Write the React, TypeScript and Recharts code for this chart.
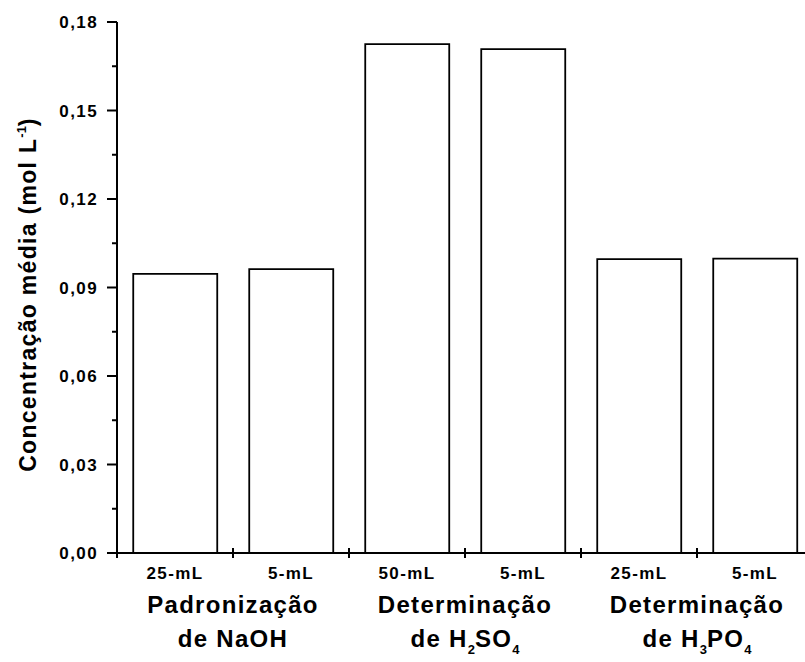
import { Bar, BarChart, XAxis, YAxis } from 'recharts'

// mean concentration per titration, in mol/L
const volumes = ['25-mL', '5-mL', '50-mL', '5-mL', '25-mL', '5-mL']
const concentrations = [0.0946, 0.0962, 0.1725, 0.1708, 0.0996, 0.0998]

// each procedure spans two bars; second line alternates plain text / subscript
const groupTitles = ['Padronização', 'Determinação', 'Determinação']
const groupSubtitles = [['de NaOH'], ['de H', '2', 'SO', '4'], ['de H', '3', 'PO', '4']]

const majorTicks = [0, 0.03, 0.06, 0.09, 0.12, 0.15, 0.18]
const minorTicks = [0.015, 0.045, 0.075, 0.105, 0.135, 0.165]

const data = volumes.map((volume, i) => ({ volume, value: concentrations[i] }))

const FONT = '"Liberation Sans", Arial, sans-serif'

function ValueTick(props: any) {
  const { x, y, payload } = props
  const isMajor = majorTicks.includes(payload.value)
  return (
    <g>
      <line x1={x - (isMajor ? 10 : 5)} x2={x} y1={y} y2={y} stroke="#000" strokeWidth={2} />
      {isMajor && (
        <text
          x={x - 19}
          y={y}
          dy={6}
          textAnchor="end"
          fontFamily={FONT}
          fontWeight="bold"
          fontSize={17}
          letterSpacing={1.4}
          fill="#000"
        >
          {payload.value.toFixed(2).replace('.', ',')}
        </text>
      )}
    </g>
  )
}

function VolumeTick(props: any) {
  const { x, y, payload, index, width, visibleTicksCount } = props
  const half = width / visibleTicksCount / 2
  const isLast = index === visibleTicksCount - 1
  const group = Math.floor(index / 2)
  return (
    <g>
      <line x1={x - half} x2={x - half} y1={y - 5} y2={y + 5} stroke="#000" strokeWidth={2} />
      {isLast && <line x1={x + half} x2={x + half} y1={y - 5} y2={y + 5} stroke="#000" strokeWidth={2} />}
      <text
        x={x}
        y={y + 26}
        textAnchor="middle"
        fontFamily={FONT}
        fontWeight="bold"
        fontSize={17}
        letterSpacing={1.4}
        fill="#000"
      >
        {payload.value}
      </text>
      {index % 2 === 1 && (
        <g fontFamily={FONT} fontWeight="bold" fontSize={24} letterSpacing={1.3} fill="#000" textAnchor="middle">
          <text x={x - half} y={y + 60}>
            {groupTitles[group]}
          </text>
          <text x={x - half} y={y + 94}>
            {groupSubtitles[group].map((part, i) =>
              i % 2 === 0 ? (
                <tspan key={i} fontSize={24} dy={i === 0 ? 0 : -7}>
                  {part}
                </tspan>
              ) : (
                <tspan key={i} fontSize={13} dy={7} letterSpacing={0}>
                  {part}
                </tspan>
              ),
            )}
          </text>
        </g>
      )}
    </g>
  )
}

function AxisTitle(props: any) {
  const { viewBox } = props
  const cx = 36
  const cy = viewBox.y + viewBox.height / 2 + 7
  return (
    <text
      x={cx}
      y={cy}
      transform={`rotate(-90, ${cx}, ${cy})`}
      textAnchor="middle"
      fontFamily={FONT}
      fontWeight="bold"
      fontSize={23}
      letterSpacing={1.3}
      fill="#000"
    >
      Concentração média (mol L
      <tspan fontSize={13} dy={-10} letterSpacing={0}>
        -1
      </tspan>
      <tspan dy={10}>)</tspan>
    </text>
  )
}

export default function App() {
  return (
    <div
      style={{
        position: 'fixed',
        top: 0,
        left: 0,
        width: 805,
        height: 662,
        overflow: 'hidden',
        background: '#fff',
      }}
    >
      <BarChart
        width={830}
        height={662}
        data={data}
        margin={{ top: 22, right: 17, left: 0, bottom: 0 }}
        barCategoryGap="14%"
      >
        <XAxis
          dataKey="volume"
          height={109}
          interval={0}
          tickLine={false}
          tickSize={0}
          tickMargin={0}
          axisLine={{ stroke: '#000', strokeWidth: 2 }}
          tick={<VolumeTick />}
        />
        <YAxis
          width={117}
          domain={[0, 0.18]}
          ticks={[...majorTicks, ...minorTicks].sort((a, b) => a - b)}
          interval={0}
          tickLine={false}
          tickSize={0}
          tickMargin={0}
          axisLine={{ stroke: '#000', strokeWidth: 2 }}
          tick={<ValueTick />}
          label={{ value: 'Concentração média', content: <AxisTitle /> }}
        />
        <Bar dataKey="value" fill="#fff" stroke="#000" strokeWidth={1.8} isAnimationActive={false} />
      </BarChart>
    </div>
  )
}
